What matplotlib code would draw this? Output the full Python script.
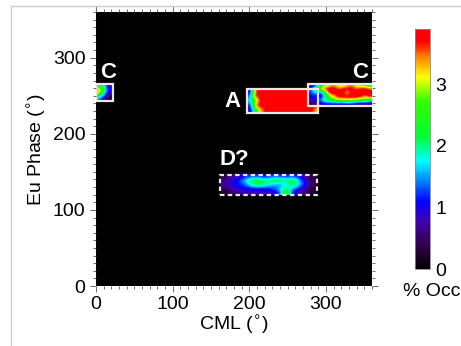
import numpy as np
import matplotlib
matplotlib.use("Agg")
import matplotlib.pyplot as plt
from matplotlib.colors import LinearSegmentedColormap
from matplotlib.patches import Rectangle
from matplotlib.lines import Line2D
from matplotlib.ticker import MultipleLocator

plt.rcParams['font.family'] = ['Liberation Sans', 'DejaVu Sans']

# occurrence (%), one small grid per region (top row first)
regionA_ext = [198, 288, 228, 258]
regionA = [
    [0.9, 2.6, 3.9, 3.9, 3.9, 3.9, 3.9, 3.9, 3.9, 3.9, 3.9, 3.9, 3.9, 3.9, 3.9, 3.9, 3.9, 3.6],
    [1.2, 3.6, 3.9, 3.9, 3.9, 3.9, 3.9, 3.9, 3.9, 3.9, 3.9, 3.9, 3.9, 3.9, 3.9, 3.9, 3.9, 3.9],
    [1.8, 2.2, 3.0, 3.9, 3.9, 3.9, 3.9, 3.9, 3.9, 3.9, 3.9, 3.9, 3.9, 3.9, 3.9, 3.9, 3.9, 3.3],
    [1.0, 3.2, 3.9, 3.9, 3.9, 3.9, 3.9, 3.9, 3.9, 3.9, 3.9, 3.9, 3.9, 3.9, 3.9, 3.9, 3.9, 3.9],
    [0.9, 1.8, 2.8, 3.4, 3.7, 3.9, 3.9, 3.9, 3.9, 3.9, 3.9, 3.9, 3.9, 3.9, 3.9, 3.9, 3.7, 3.2],
]

regionC_ext = [278, 360, 236, 266]
regionC = [
    [0.6, 1.0, 1.8, 2.6, 3.0, 3.4, 3.0, 2.6, 3.2, 3.4, 3.0, 2.6, 2.4, 2.0],
    [1.3, 2.6, 3.3, 3.9, 3.9, 3.9, 3.4, 3.9, 3.9, 3.9, 3.4, 3.9, 3.9, 3.6],
    [1.2, 1.9, 1.0, 2.3, 3.9, 3.9, 3.9, 3.9, 3.0, 3.9, 3.9, 3.9, 3.9, 3.9],
    [1.0, 1.1, 0.8, 1.6, 2.8, 3.2, 3.9, 3.9, 3.9, 3.9, 3.9, 3.9, 3.4, 3.9],
    [0.8, 1.3, 1.5, 2.2, 2.3, 2.7, 3.0, 2.8, 3.2, 3.0, 2.9, 2.4, 2.5, 2.1],
    [0.3, 0.5, 0.7, 0.9, 0.9, 0.8, 0.7, 0.7, 0.8, 0.7, 0.6, 0.5, 0.7, 0.4],
]

regionC2_ext = [0, 22, 243, 265]
regionC2 = [
    [2.5, 2.0, 1.3, 0.5],
    [3.9, 2.5, 1.5, 1.0],
    [2.6, 2.0, 1.2, 0.3],
    [1.5, 1.0, 0.2, 0.0],
]

regionD_ext = [162, 288, 119, 146]
regionD = [
    [0.3, 0.6, 0.8, 1.0, 1.2, 1.1, 1.0, 1.2, 1.1, 1.0, 1.2, 1.0, 0.5, 0.2],
    [0.6, 0.9, 1.1, 1.6, 2.3, 2.4, 1.9, 2.3, 2.5, 2.1, 2.4, 1.5, 0.8, 0.3],
    [0.7, 1.0, 1.1, 1.3, 1.9, 2.3, 2.1, 1.6, 1.4, 1.6, 2.3, 1.7, 0.9, 0.3],
    [0.4, 0.8, 1.0, 1.0, 1.1, 1.1, 1.0, 1.2, 1.6, 2.2, 1.5, 1.0, 0.7, 0.2],
    [0.2, 0.3, 0.5, 0.7, 0.8, 0.7, 0.8, 0.9, 1.0, 3.0, 0.9, 0.7, 0.4, 0.1],
]

# boxes: (x0, x1, y0, y1, label, label x, label y, dashed)
boxes = [
    (197, 289, 227, 259, "A", 168, 242, False),
    (277, 362, 237, 265, "C", 334, 280, False),
    (0, 22, 243, 265, "C", 5, 280, False),
    (162, 288, 119, 146, "D?", 161, 166, True),
]

cbar_ticks = [0, 1, 2, 3]
vmax = 3.9

cmap = LinearSegmentedColormap.from_list("idl_rainbow", [
    (0.0, (0, 0, 0)),
    (0.1, (0.2, 0.0, 0.3)),
    (0.2, (0.25, 0.0, 0.7)),
    (0.28, (0.0, 0.0, 1.0)),
    (0.45, (0.0, 1.0, 1.0)),
    (0.55, (0.0, 1.0, 0.2)),
    (0.7, (0.2, 1.0, 0.0)),
    (0.8, (1.0, 1.0, 0.0)),
    (0.88, (1.0, 0.55, 0.0)),
    (0.95, (1.0, 0.0, 0.0)),
    (1.0, (1.0, 0.0, 0.0)),
])

fig = plt.figure(figsize=(4.61, 3.46), dpi=100)
ax = fig.add_axes([0.2082, 0.1734, 0.5987, 0.7919])
ax.set_facecolor("black")

for arr, ext in [(regionA, regionA_ext), (regionC, regionC_ext),
                 (regionC2, regionC2_ext), (regionD, regionD_ext)]:
    im = ax.imshow(np.array(arr), extent=ext, origin="upper", cmap=cmap,
                   vmin=0, vmax=vmax, interpolation="bicubic", aspect="auto")

for x0, x1, y0, y1, lab, lx, ly, dashed in boxes:
    ax.add_patch(Rectangle((x0, y0), x1 - x0, y1 - y0, fill=False,
                           edgecolor="#e8e8e8", lw=1.6,
                           linestyle=(0, (2, 1.5)) if dashed else "-"))
    ax.text(lx, ly, lab, color="white", fontsize=16, fontweight="bold",
            ha="left", va="center")

ax.set_xlim(0, 360)
ax.set_ylim(0, 360)
ax.xaxis.set_major_locator(MultipleLocator(100))
ax.yaxis.set_major_locator(MultipleLocator(100))
ax.xaxis.set_minor_locator(MultipleLocator(10))
ax.yaxis.set_minor_locator(MultipleLocator(10))
ax.tick_params(which="both", direction="out", top=True, right=True,
               color="#555555", labelsize=14, width=0.6)
ax.tick_params(which="major", length=4)
ax.tick_params(which="minor", length=2)
for s in ax.spines.values():
    s.set_visible(False)
ax.set_xlabel("CML ($^{\\circ}$)", fontsize=14, labelpad=0)
ax.set_ylabel("Eu Phase ($^{\\circ}$)", fontsize=14, labelpad=3)

cax = fig.add_axes([0.9002, 0.2225, 0.0325, 0.6936])
cb = fig.colorbar(im, cax=cax, ticks=cbar_ticks)
cb.outline.set_edgecolor("#888888")
cb.outline.set_linewidth(0.6)
cax.tick_params(length=0, labelsize=14, pad=4)
fig.text(403 / 461, 1 - 292 / 346, "% Occ", fontsize=14,
         ha="left", va="center")

# frame of the original screenshot
fig.add_artist(Line2D([11 / 461, 11 / 461], [0, 1 - 6 / 346],
                      transform=fig.transFigure, color="#cccccc", lw=1))
fig.add_artist(Line2D([11 / 461, 1], [1 - 6 / 346, 1 - 6 / 346],
                      transform=fig.transFigure, color="#cccccc", lw=1))

fig.savefig("out.png", dpi=100)
